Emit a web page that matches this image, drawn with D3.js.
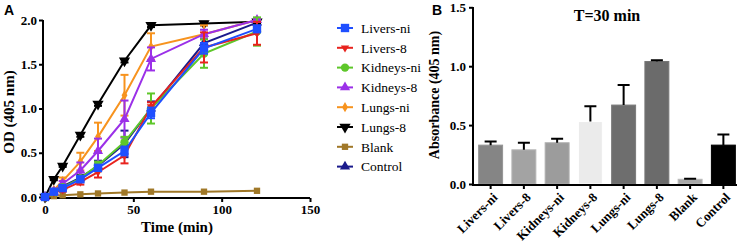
<!DOCTYPE html>
<html>
<head>
<meta charset="utf-8">
<script src="https://cdn.jsdelivr.net/npm/d3@7"></script>
<style>
  body { margin: 0; background: #fff; }
  svg { display: block; }
  .axis path, .axis line { stroke: #000; stroke-width: 2px; }
  .axis text { font-family: "Liberation Serif", "Times New Roman", serif; font-weight: bold; font-size: 13px; fill: #000; }
</style>
</head>
<body>
<svg id="chart" width="743" height="247"></svg>
<script>
  // panel A: OD over time
  var times = [0, 5, 10, 20, 30, 45, 60, 90, 120];
  var series_names = ["Livers-ni", "Livers-8", "Kidneys-ni", "Kidneys-8", "Lungs-ni", "Lungs-8", "Blank", "Control"];
  var livers_ni   = [0, 0.06, 0.10, 0.20, 0.33, 0.52, 0.95, 1.68, 1.90];
  var livers_8    = [0, 0.05, 0.08, 0.17, 0.28, 0.47, 1.02, 1.69, 1.85];
  var kidneys_ni  = [0, 0.05, 0.11, 0.21, 0.36, 0.62, 1.00, 1.62, 1.87];
  var kidneys_8   = [0, 0.06, 0.15, 0.30, 0.52, 0.88, 1.56, 1.84, 2.00];
  var lungs_ni    = [0, 0.08, 0.18, 0.40, 0.68, 1.15, 1.70, 1.84, 2.00];
  var lungs_8     = [0, 0.20, 0.35, 0.70, 1.05, 1.54, 1.94, 1.96, 1.98];
  var blank       = [0, 0.01, 0.02, 0.03, 0.04, 0.05, 0.06, 0.06, 0.07];
  var control     = [0, 0.06, 0.12, 0.22, 0.35, 0.60, 1.00, 1.74, 1.97];

  var livers_ni_err  = [0, 0.01, 0.02, 0.03, 0.03, 0.05, 0.06, 0.06, 0.04];
  var livers_8_err   = [0, 0.01, 0.02, 0.03, 0.06, 0.09, 0.05, 0.17, 0.13];
  var kidneys_ni_err = [0, 0.01, 0.02, 0.03, 0.04, 0.06, 0.17, 0.16, 0.16];
  var kidneys_8_err  = [0, 0.01, 0.03, 0.09, 0.14, 0.21, 0.13, 0.05, 0.01];
  var lungs_ni_err   = [0, 0.01, 0.04, 0.10, 0.16, 0.23, 0.15, 0.10, 0.01];
  var lungs_8_err    = [0, 0.01, 0.01, 0.02, 0.02, 0.02, 0.02, 0.02, 0.02];
  var blank_err      = [0, 0, 0, 0, 0, 0, 0, 0, 0];
  var control_err    = [0, 0.01, 0.02, 0.03, 0.06, 0.15, 0.08, 0.05, 0.03];

  var x_ticks_a = [0, 50, 100, 150];
  var y_ticks_a = [0, 0.5, 1.0, 1.5, 2.0];

  // panel B: absorbance at 30 min
  var bar_names  = ["Livers-ni", "Livers-8", "Kidneys-ni", "Kidneys-8", "Lungs-ni", "Lungs-8", "Blank", "Control"];
  var bar_values = [0.33, 0.29, 0.35, 0.53, 0.67, 1.04, 0.04, 0.33];
  var bar_errors = [0.03, 0.06, 0.035, 0.13, 0.17, 0.01, 0.005, 0.09];
  var y_ticks_b = [0, 0.5, 1.0, 1.5];

  var line_colors = ["#1f4fff", "#e8231e", "#5ec72a", "#9b30e8", "#f7931e", "#000000", "#a07828", "#1a1a8c"];
  var markers = ["square", "tri_down_small", "circle", "tri_up", "diamond", "tri_down", "square_small", "tri_up"];
  var bar_colors = ["#858585", "#a3a3a3", "#9c9c9c", "#ebebeb", "#6e6e6e", "#6b6b6b", "#a8a8a8", "#000000"];

  var series_values = [livers_ni, livers_8, kidneys_ni, kidneys_8, lungs_ni, lungs_8, blank, control];
  var series_errors = [livers_ni_err, livers_8_err, kidneys_ni_err, kidneys_8_err, lungs_ni_err, lungs_8_err, blank_err, control_err];

  var svg = d3.select("#chart");
  var serif = "'Liberation Serif', 'Times New Roman', serif";

  function markerPath(kind) {
    var map = {
      square: [d3.symbolSquare, 70],
      square_small: [d3.symbolSquare, 40],
      circle: [d3.symbolCircle, 55],
      tri_up: [d3.symbolTriangle, 45],
      tri_down: [d3.symbolTriangle, 55],
      tri_down_small: [d3.symbolTriangle, 30],
      diamond: [d3.symbolDiamond, 30]
    };
    return d3.symbol().type(map[kind][0]).size(map[kind][1])();
  }
  function markerRotate(kind) {
    return (kind == "tri_down" || kind == "tri_down_small") ? " rotate(180)" : "";
  }

  function drawPanelA() {
    var x = d3.scaleLinear().domain([0, 150]).range([45, 310]);
    var y = d3.scaleLinear().domain([0, 2]).range([197, 20]);

    var g = svg.append("g");

    g.append("g")
      .attr("class", "axis")
      .attr("transform", "translate(0,198)")
      .call(d3.axisBottom(x).tickValues(x_ticks_a).tickSize(4).tickSizeOuter(0).tickPadding(3))
      .select(".domain").attr("d", "M43,0H310");

    g.append("g")
      .attr("class", "axis")
      .attr("transform", "translate(43,0)")
      .call(d3.axisLeft(y).tickValues(y_ticks_a).tickFormat(d3.format(".1f")).tickSize(4).tickSizeOuter(0).tickPadding(2))
      .select(".domain").attr("d", "M0,20V199");

    g.append("text")
      .attr("x", 177).attr("y", 232)
      .attr("text-anchor", "middle")
      .style("font-family", serif).style("font-weight", "bold").style("font-size", "15px")
      .text("Time (min)");

    g.append("text")
      .attr("transform", "translate(14,112) rotate(-90)")
      .attr("text-anchor", "middle")
      .style("font-family", serif).style("font-weight", "bold").style("font-size", "15px")
      .text("OD (405 nm)");

    g.append("text")
      .attr("x", 4).attr("y", 15)
      .style("font-family", "'Liberation Sans', Arial, sans-serif").style("font-weight", "bold").style("font-size", "14px")
      .text("A");

    var line = d3.line()
      .x(function(d) { return x(d.t); })
      .y(function(d) { return y(d.v); });

    // draw last series first so Livers-ni is on top
    var order = d3.range(series_names.length).reverse();
    order.forEach(function(s) {
      var pts = times.map(function(t, i) { return {t: t, v: series_values[s][i], e: series_errors[s][i]}; });
      var sg = g.append("g");
      var c = line_colors[s];

      pts.forEach(function(p) {
        if (p.e <= 0) { return; }
        var cx = x(p.t);
        sg.append("line").attr("x1", cx).attr("x2", cx).attr("y1", y(p.v - p.e)).attr("y2", y(p.v + p.e))
          .attr("stroke", c).attr("stroke-width", 2);
        [p.v - p.e, p.v + p.e].forEach(function(v) {
          sg.append("line").attr("x1", cx - 4).attr("x2", cx + 4).attr("y1", y(v)).attr("y2", y(v))
            .attr("stroke", c).attr("stroke-width", 2);
        });
      });

      sg.append("path")
        .datum(pts)
        .attr("d", line)
        .attr("fill", "none")
        .attr("stroke", c)
        .attr("stroke-width", 2);

      sg.selectAll(".pt")
        .data(pts)
        .enter()
        .append("path")
        .attr("d", markerPath(markers[s]))
        .attr("transform", function(d) { return "translate(" + x(d.t) + "," + y(d.v) + ")" + markerRotate(markers[s]); })
        .attr("fill", c);
    });

    // legend
    var legend = g.selectAll(".legend")
      .data(series_names)
      .enter().append("g")
      .attr("class", "legend")
      .attr("transform", function(d, i) { return "translate(345," + (28 + i * 19.8) + ")"; });

    legend.append("line")
      .attr("x1", -8).attr("x2", 8)
      .attr("stroke", function(d, i) { return line_colors[i]; })
      .attr("stroke-width", 2);

    legend.append("path")
      .attr("d", function(d, i) { return markerPath(markers[i]); })
      .attr("transform", function(d, i) { return markerRotate(markers[i]); })
      .attr("fill", function(d, i) { return line_colors[i]; });

    legend.append("text")
      .attr("x", 16)
      .attr("dy", "0.35em")
      .style("font-family", serif).style("font-size", "13.5px")
      .text(function(d) { return d; });
  }

  function drawPanelB() {
    var x = d3.scaleBand().domain(bar_names).range([474, 740]).paddingInner(0.28).paddingOuter(0.14);
    var y = d3.scaleLinear().domain([0, 1.5]).range([184, 7.3]);

    var g = svg.append("g");

    g.selectAll(".bar")
      .data(bar_names)
      .enter().append("rect")
      .attr("class", "bar")
      .attr("x", function(d) { return x(d); })
      .attr("width", x.bandwidth())
      .attr("y", function(d, i) { return y(bar_values[i]); })
      .attr("height", function(d, i) { return y(0) - y(bar_values[i]); })
      .attr("fill", function(d, i) { return bar_colors[i]; })
      .attr("stroke", function(d, i) { return d3.color(bar_colors[i]).brighter(0.3); })
      .attr("stroke-width", 1);

    g.selectAll(".err")
      .data(bar_names)
      .enter().append("path")
      .attr("class", "err")
      .attr("d", function(d, i) {
        var cx = x(d) + x.bandwidth() / 2;
        var top = y(bar_values[i] + bar_errors[i]);
        return "M" + cx + "," + y(bar_values[i]) + "V" + top + "M" + (cx - 6) + "," + top + "H" + (cx + 6);
      })
      .attr("stroke", "#000")
      .attr("stroke-width", 2)
      .attr("fill", "none");

    var xa = g.append("g")
      .attr("class", "axis")
      .attr("transform", "translate(0,185)")
      .call(d3.axisBottom(x).tickSize(4).tickSizeOuter(0));
    xa.select(".domain").attr("d", "M472,0H737");
    xa.selectAll("text")
      .style("text-anchor", "end")
      .attr("dx", "-0.3em")
      .attr("dy", "0.6em")
      .attr("transform", "rotate(-45)");

    g.append("g")
      .attr("class", "axis")
      .attr("transform", "translate(473,0)")
      .call(d3.axisLeft(y).tickValues(y_ticks_b).tickFormat(d3.format(".1f")).tickSize(4).tickSizeOuter(0).tickPadding(3))
      .select(".domain").attr("d", "M0,7V186");

    g.append("text")
      .attr("transform", "translate(439,95) rotate(-90)")
      .attr("text-anchor", "middle")
      .style("font-family", serif).style("font-weight", "bold").style("font-size", "14px")
      .text("Absorbance (405 nm)");

    g.append("text")
      .attr("x", 607).attr("y", 21)
      .attr("text-anchor", "middle")
      .style("font-family", serif).style("font-weight", "bold").style("font-size", "16px")
      .text("T=30 min");

    g.append("text")
      .attr("x", 432).attr("y", 15)
      .style("font-family", "'Liberation Sans', Arial, sans-serif").style("font-weight", "bold").style("font-size", "14px")
      .text("B");
  }

  drawPanelA();
  drawPanelB();
</script>
</body>
</html>
